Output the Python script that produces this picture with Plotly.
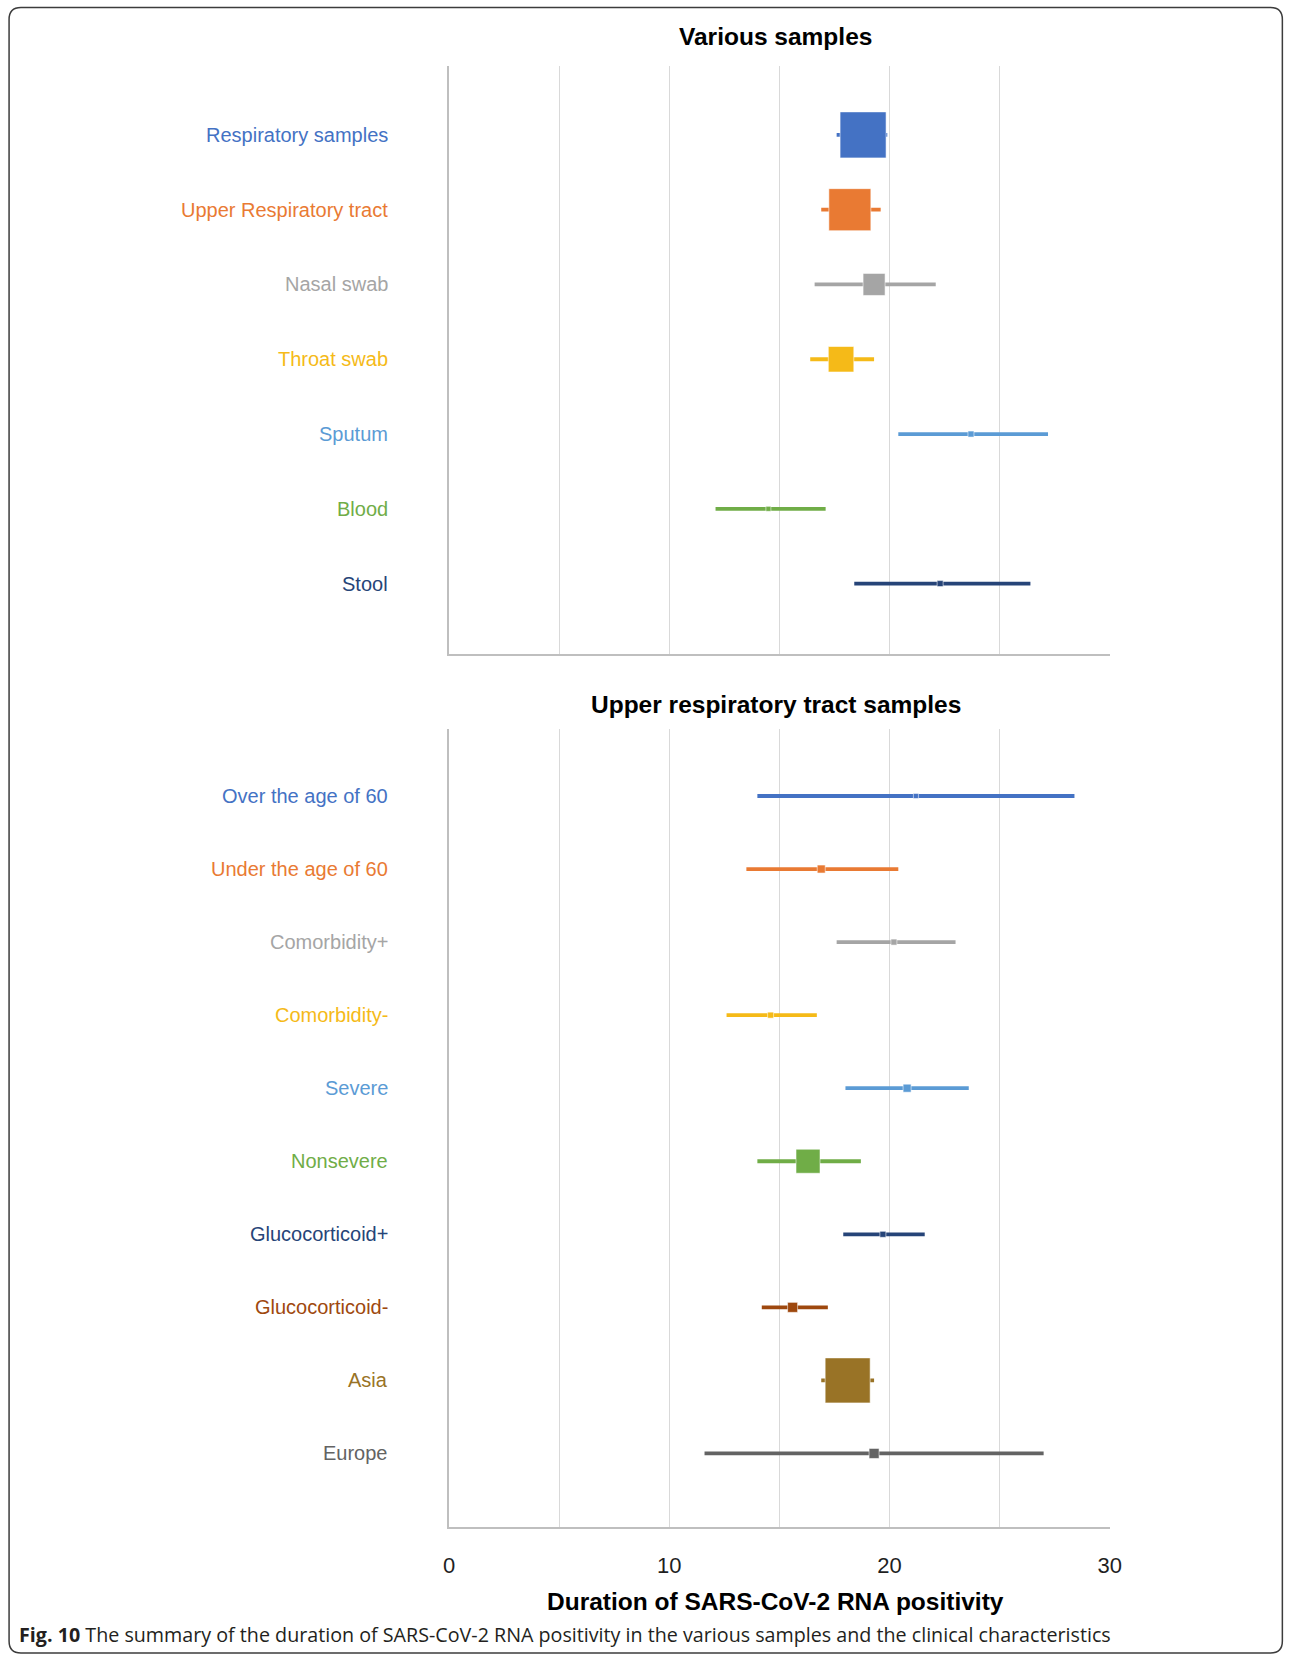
import plotly.graph_objects as go

# ---- data: mean duration (days) with 95% CI, marker size reflects weight ----
sample_labels = ["Respiratory samples", "Upper Respiratory tract", "Nasal swab",
                 "Throat swab", "Sputum", "Blood", "Stool"]
sample_mean = [18.8, 18.2, 19.3, 17.8, 23.7, 14.5, 22.3]
sample_low = [17.6, 16.9, 16.6, 16.4, 20.4, 12.1, 18.4]
sample_high = [19.9, 19.6, 22.1, 19.3, 27.2, 17.1, 26.4]
sample_weight = [46, 42, 22, 25.5, 6, 5, 6]

clinical_labels = ["Over the age of 60", "Under the age of 60", "Comorbidity+",
                   "Comorbidity-", "Severe", "Nonsevere", "Glucocorticoid+",
                   "Glucocorticoid-", "Asia", "Europe"]
clinical_mean = [21.2, 16.9, 20.2, 14.6, 20.8, 16.3, 19.7, 15.6, 18.1, 19.3]
clinical_low = [14.0, 13.5, 17.6, 12.6, 18.0, 14.0, 17.9, 14.2, 16.9, 11.6]
clinical_high = [28.4, 20.4, 23.0, 16.7, 23.6, 18.7, 21.6, 17.2, 19.3, 27.0]
clinical_weight = [5, 8, 6, 6, 8, 24, 6, 10, 45, 10]

x_ticks = [0, 5, 10, 15, 20, 25, 30]
x_ticktext = ["0", "", "10", "", "20", "", "30"]

sample_colors = ["#4472C4", "#E97A33", "#A5A5A5", "#F5BA18", "#5B9BD5",
                 "#70AD47", "#264478"]
clinical_colors = ["#4472C4", "#E97A33", "#A5A5A5", "#F5BA18", "#5B9BD5",
                   "#70AD47", "#264478", "#9E480E", "#997326", "#636363"]

W, H = 1295, 1658
FONT = "Liberation Sans, Arial, sans-serif"


def px(x):
    # horizontal page position (px) -> paper fraction, with a small
    # correction for the page's horizontal scaling
    return min(max((x - 5.43) / 0.986 / W, 0.0), 0.9995)


def py(y):
    return 1 - y / H


fig = go.Figure()


def add_panel(labels, mean, low, high, weight, colors, xa, ya):
    for lab, m, lo, hi, w, c in zip(labels, mean, low, high, weight, colors):
        fig.add_trace(go.Scatter(
            x=[m], y=[lab], xaxis=xa, yaxis=ya, mode="markers",
            marker=dict(symbol="square", size=w, color=c,
                        line=dict(color="rgba(255,255,255,0.55)", width=1)),
            error_x=dict(type="data", symmetric=False, array=[hi - m],
                         arrayminus=[m - lo], thickness=3.8, width=0, color=c),
            showlegend=False, hoverinfo="skip"))
        fig.add_annotation(x=px(389), xref="paper", xanchor="right",
                           y=lab, yref=ya, yanchor="middle", showarrow=False,
                           text=lab, font=dict(family=FONT, size=20, color=c))


add_panel(sample_labels, sample_mean, sample_low, sample_high,
          sample_weight, sample_colors, "x", "y")
add_panel(clinical_labels, clinical_mean, clinical_low, clinical_high,
          clinical_weight, clinical_colors, "x2", "y2")

X0, X30 = 448.5, 1109
x_common = dict(range=[0, 30], domain=[px(X0), px(X30)], showgrid=True,
                gridcolor="#D9D9D9", gridwidth=1, zeroline=False,
                showline=True, linecolor="#BFBFBF", linewidth=2,
                tickvals=x_ticks, ticktext=x_ticktext, ticks="")
y_common = dict(type="category", showgrid=False, zeroline=False,
                showline=True, linecolor="#BFBFBF", linewidth=2,
                showticklabels=False, ticks="")

fig.update_layout(
    width=W, height=H, margin=dict(l=0, r=0, t=0, b=0),
    paper_bgcolor="white", plot_bgcolor="white",
    xaxis=dict(**x_common, anchor="y", showticklabels=False),
    yaxis=dict(**y_common, anchor="x", domain=[py(654.3), py(66)],
               categoryorder="array", categoryarray=sample_labels,
               range=[6.945, -0.921]),
    xaxis2=dict(**x_common, anchor="y2", showticklabels=True,
                tickfont=dict(family=FONT, size=22, color="#1F1F1F"),
                ticklabelstandoff=18),
    yaxis2=dict(**y_common, anchor="x2", domain=[py(1526.5), py(729)],
                categoryorder="array", categoryarray=clinical_labels,
                range=[len(clinical_labels), -0.917]),
)

# panel headings, axis title and caption
xc = px(775)
for text, y in [("<b>Various samples</b>", 36),
                ("<b>Upper respiratory tract samples</b>", 704),
                ("<b>Duration of SARS-CoV-2 RNA positivity</b>", 1601)]:
    fig.add_annotation(x=xc, y=py(y), xref="paper", yref="paper",
                       xanchor="center", yanchor="middle", text=text,
                       showarrow=False,
                       font=dict(family=FONT, size=24.5, color="black"))
fig.add_annotation(x=px(16), y=py(1634), xref="paper", yref="paper",
                   xanchor="left", yanchor="middle", showarrow=False,
                   text="<b>Fig. 10</b> The summary of the duration of SARS-CoV-2 RNA "
                        "positivity in the various samples and the clinical characteristics",
                   font=dict(family="Open Sans, sans-serif", size=19.7, color="#231F20"))

# rounded frame around the figure
x0, x1 = px(8.5), px(1292)
yt, yb = py(7.5), py(1653)
rx, ry = 12 / W, 12 / H
frame = (f"M {x0+rx},{yt} L {x1-rx},{yt} Q {x1},{yt} {x1},{yt-ry} "
         f"L {x1},{yb+ry} Q {x1},{yb} {x1-rx},{yb} L {x0+rx},{yb} "
         f"Q {x0},{yb} {x0},{yb+ry} L {x0},{yt-ry} Q {x0},{yt} {x0+rx},{yt} Z")
fig.add_shape(type="path", path=frame, xref="paper", yref="paper",
              line=dict(color="#3C3C3C", width=1.5))

fig.write_html("out.html")
